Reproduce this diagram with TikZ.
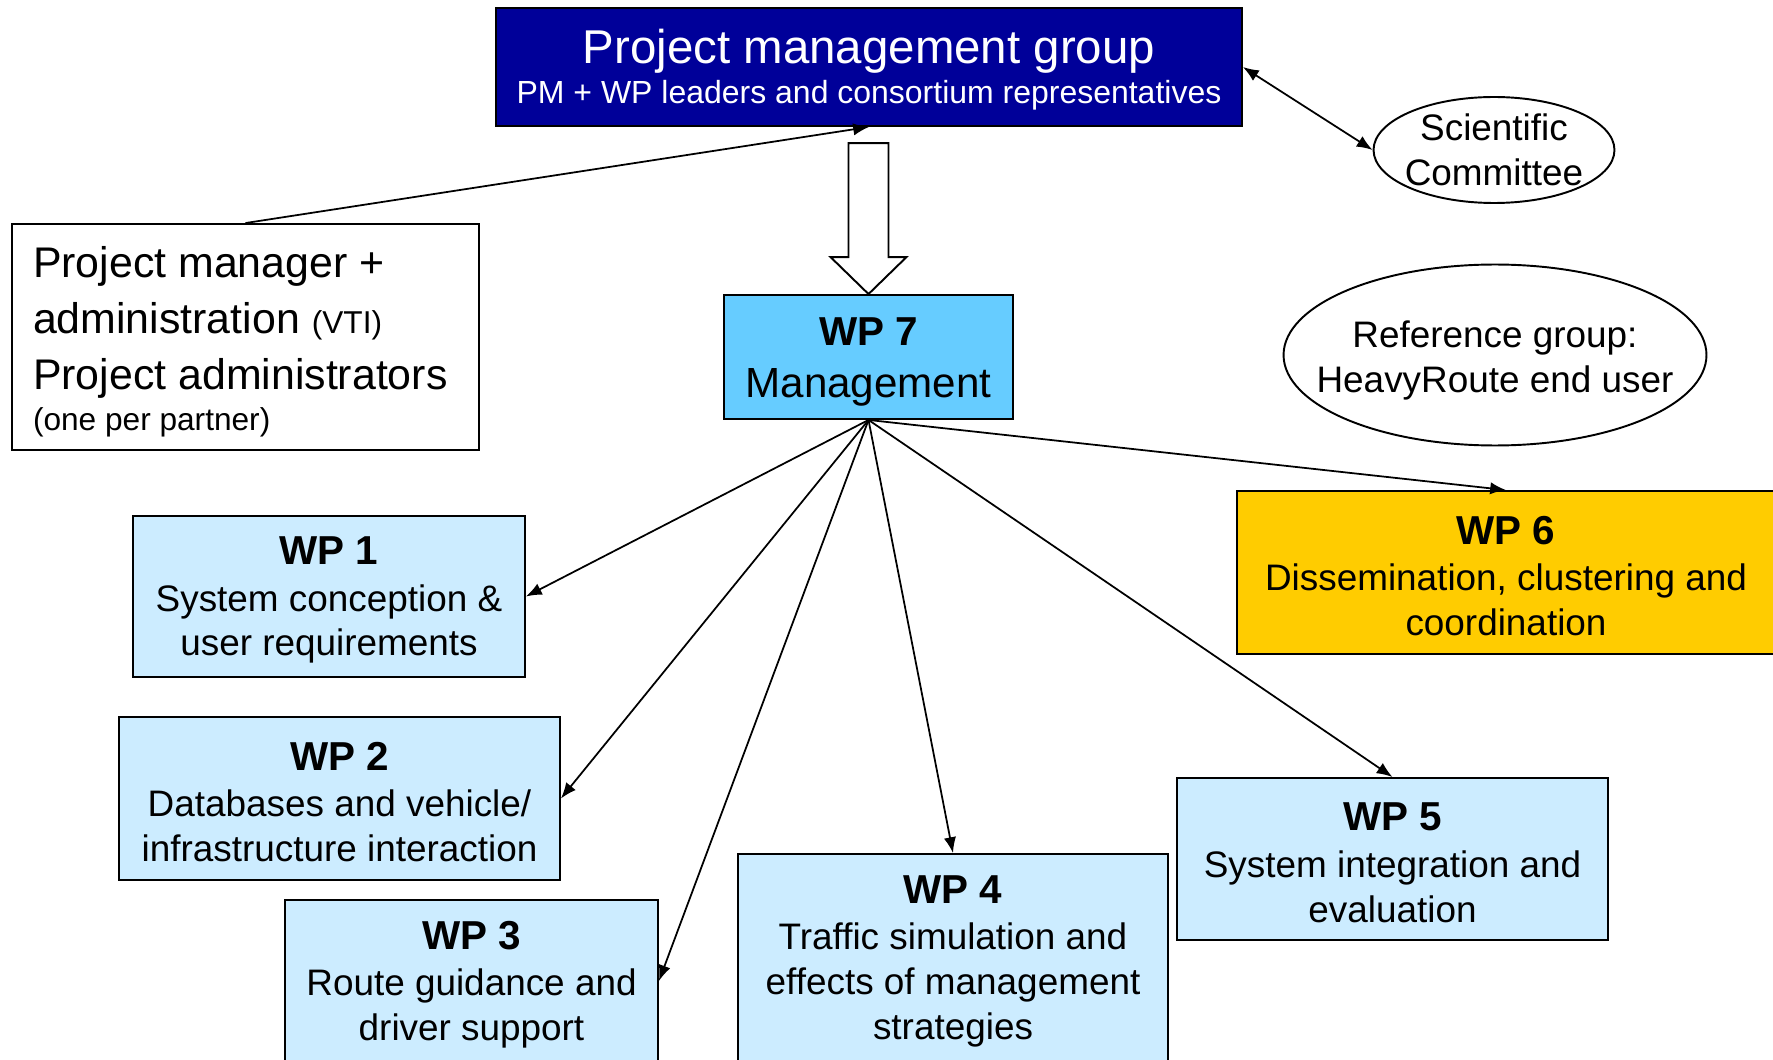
\documentclass[tikz,border=0pt]{standalone}
\usepackage{fontspec}
\setmainfont{Liberation Sans}
\usetikzlibrary{arrows.meta,shapes.geometric}
\definecolor{pmblue}{RGB}{0,0,153}
\definecolor{wpblue}{RGB}{204,236,255}
\definecolor{mgmtblue}{RGB}{102,204,255}
\definecolor{dissgold}{RGB}{255,204,0}
\tikzset{
  wpbox/.style={draw, line width=1.1pt, fill=wpblue, align=center, inner sep=0pt,
    font=\fontsize{21}{25.5}\selectfont},
  oval/.style={draw, line width=1.1pt, ellipse, align=center, inner sep=-1cm,
    font=\fontsize{21}{25.5}\selectfont},
  link/.style={line width=1pt, -{Latex[length=9pt,width=7pt]}},
}
\newcommand{\wphead}[1]{{\bfseries\fontsize{23}{27}\selectfont\rule{0pt}{20pt}#1}\\[1pt]}
\begin{document}
\begin{tikzpicture}[x=0.02cm, y=-0.02cm]
      \useasboundingbox[fill=white](0,0)rectangle(1773,1060);
      \clip(0,0)rectangle(1773,1060);
      % top level
      \node[draw, line width=1.1pt, fill=pmblue, text=white, align=center, inner sep=0pt,
        minimum width=14.92cm, minimum height=2.36cm] (pmg) at (869,67)
        {\fontsize{27}{33}\selectfont\rule{0pt}{22.9pt}Project management group\\[3pt]
         \fontsize{18.2}{24}\selectfont PM + WP leaders and consortium representatives};
      \node[oval, minimum width=4.82cm, minimum height=2.12cm] (sci) at (1494,150)
        {Scientific\\Committee};
      \node[draw, line width=1.1pt, inner sep=0pt,
        minimum width=9.34cm, minimum height=4.52cm] (pm) at (245.5,337)
        {\parbox[c][4.52cm][t]{8.5cm}{\raggedright\vspace*{0.44cm}%
         \fontsize{24.4}{32}\selectfont Project manager +\\
         administration {\fontsize{18}{32}\selectfont (VTI)}\\
         Project administrators\\[-0.3cm]
         {\fontsize{18}{24}\selectfont (one per partner)}}};
      % management
      \node[wpbox, fill=mgmtblue, minimum width=5.78cm, minimum height=2.48cm] (wp7) at (868.5,357)
        {{\bfseries\fontsize{23}{27}\selectfont\rule{0pt}{21.5pt}WP 7}\\[4.5pt]
         \fontsize{24}{28}\selectfont Management};
      \node[oval, minimum width=8.46cm, minimum height=3.62cm] (ref) at (1495,355)
        {\rule{0pt}{21.4pt}Reference group:\\[0.5pt]HeavyRoute end user};
      % work packages
      \node[wpbox, minimum width=7.84cm, minimum height=3.22cm] (wp1) at (329,596.5)
        {\wphead{WP 1}System conception \&\\user requirements};
      \node[wpbox, minimum width=8.82cm, minimum height=3.26cm] (wp2) at (339.5,798.5)
        {\wphead{WP 2}Databases and vehicle/\\infrastructure interaction};
      \node[wpbox, minimum width=7.46cm, minimum height=3.24cm] (wp3) at (471.5,981)
        {\wphead{WP 3}Route guidance and\\driver support};
      \node[wpbox, minimum width=8.6cm, minimum height=4.14cm] (wp4) at (953,957.5)
        {\wphead{WP 4}Traffic simulation and\\effects of management\\strategies};
      \node[wpbox, minimum width=8.62cm, minimum height=3.24cm] (wp5) at (1392.5,859)
        {\wphead{WP 5}System integration and\\evaluation};
      \node[wpbox, fill=dissgold, minimum width=10.76cm, minimum height=3.26cm] (wp6) at (1506,572.5)
        {\wphead{WP 6}Dissemination, clustering and\\coordination};
      % connectors
      \draw[fill=white, line width=1.1pt](wp7.north) -- ++(-38,-37) -- ++(18,0) -- ++(0,-114)
        -- ++(40,0) -- ++(0,114) -- ++(18,0) -- cycle;
      \draw[link](pm.north) -- (pmg.south);
      \draw[link, {Latex[length=9pt,width=7pt]}-{Latex[length=9pt,width=7pt]}](pmg.east) -- (sci.west);
      \foreach \t/\a in{%
        wp1/east, wp2/east, wp3/east,
        wp4/north, wp5/north, wp6/north%
      }{
        \draw[link](wp7.south) -- (\t.\a);
      }
    \end{tikzpicture}
\end{document}
